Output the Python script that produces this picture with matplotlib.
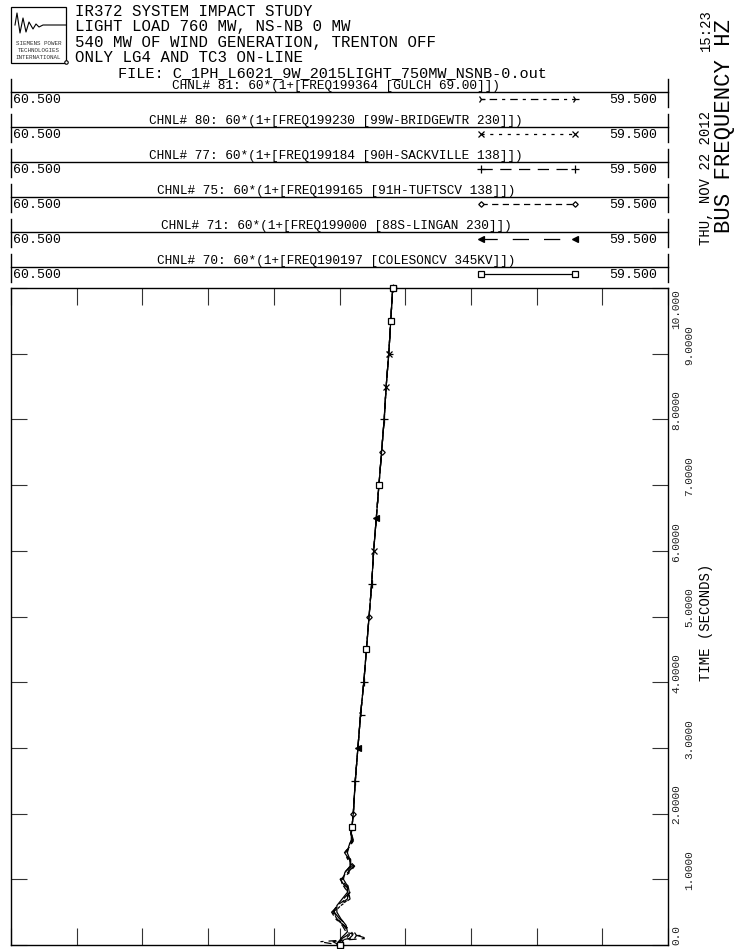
import numpy as np
import matplotlib
matplotlib.use("Agg")
import matplotlib.pyplot as plt

plt.rcParams['font.family'] = ['Liberation Mono', 'DejaVu Sans Mono']

W, H, DPI = 737, 949, 100

# ---------------- data ----------------
header_lines = ["IR372 SYSTEM IMPACT STUDY",
                "LIGHT LOAD 760 MW, NS-NB 0 MW",
                "540 MW OF WIND GENERATION, TRENTON OFF",
                "ONLY LG4 AND TC3 ON-LINE"]
file_line = "FILE: C_1PH_L6021_9W_2015LIGHT_750MW_NSNB-0.out"
date_text = "THU, NOV 22 2012"
time_text = "15:23"
y_title = "BUS FREQUENCY HZ"
x_title = "TIME (SECONDS)"

channel_ids = [81, 80, 77, 75, 71, 70]
channel_titles = ["CHNL# 81: 60*(1+[FREQ199364 [GULCH 69.00]])",
                  "CHNL# 80: 60*(1+[FREQ199230 [99W-BRIDGEWTR 230]])",
                  "CHNL# 77: 60*(1+[FREQ199184 [90H-SACKVILLE 138]])",
                  "CHNL# 75: 60*(1+[FREQ199165 [91H-TUFTSCV 138]])",
                  "CHNL# 71: 60*(1+[FREQ199000 [88S-LINGAN 230]])",
                  "CHNL# 70: 60*(1+[FREQ190197 [COLESONCV 345KV]])"]
freq_min, freq_max = 59.5, 60.5
freq_min_label, freq_max_label = "59.500", "60.500"
time_ticks = [0, 1, 2, 3, 4, 5, 6, 7, 8, 9, 10]
time_tick_labels = ["0.0", "1.0000", "2.0000", "3.0000", "4.0000", "5.0000",
                    "6.0000", "7.0000", "8.0000", "9.0000", "10.000"]
freq_ticks = [60.5, 60.4, 60.3, 60.2, 60.1, 60.0, 59.9, 59.8, 59.7, 59.6, 59.5]

t_early = [0.0, 0.05, 0.1, 0.15, 0.2, 0.3, 0.4, 0.5, 0.6, 0.7, 0.8, 0.9,
           1.0, 1.1, 1.2, 1.3, 1.4, 1.5, 1.6, 1.7, 1.8, 1.9]
t_late = [2.0, 2.5, 3.0, 3.5, 4.0, 4.5, 5.0, 5.5, 6.0, 6.5, 7.0, 7.5,
          8.0, 8.5, 9.0, 9.5, 10.0]
f_late = [59.979, 59.976, 59.972, 59.968, 59.963, 59.959, 59.955, 59.951,
          59.948, 59.944, 59.940, 59.936, 59.932, 59.929, 59.925, 59.922, 59.919]

f81_early = [60.000, 60.030, 59.958, 59.975, 59.990, 59.996, 60.006, 60.010, 59.998, 59.984, 59.986,
             59.995, 59.998, 59.985, 59.977, 59.987, 59.993, 59.984, 59.978, 59.983, 59.981, 59.980]
f80_early = [60.000, 60.006, 59.982, 59.978, 59.982, 59.992, 60.004, 60.008, 59.998, 59.986, 59.987,
             59.994, 59.996, 59.986, 59.980, 59.987, 59.991, 59.983, 59.980, 59.983, 59.981, 59.980]
f77_early = [60.000, 60.010, 59.985, 59.980, 59.984, 59.993, 60.006, 60.012, 60.002, 59.988, 59.986,
             59.992, 59.999, 59.988, 59.978, 59.985, 59.992, 59.986, 59.979, 59.982, 59.981, 59.980]
f75_early = [60.000, 59.996, 59.990, 59.985, 59.986, 59.994, 60.004, 60.010, 60.004, 59.990, 59.984,
             59.990, 59.997, 59.990, 59.981, 59.985, 59.990, 59.985, 59.980, 59.983, 59.981, 59.980]
f71_early = [60.000, 60.002, 59.996, 59.988, 59.984, 59.988, 60.000, 60.008, 60.006, 59.994, 59.985,
             59.987, 59.995, 59.993, 59.983, 59.983, 59.989, 59.987, 59.981, 59.982, 59.981, 59.980]
f70_early = [60.000, 60.000, 59.998, 59.993, 59.988, 59.990, 59.998, 60.004, 60.004, 59.996, 59.988,
             59.988, 59.994, 59.992, 59.984, 59.984, 59.988, 59.986, 59.982, 59.982, 59.981, 59.980]

early_by_channel = {81: f81_early, 80: f80_early, 77: f77_early,
                    75: f75_early, 71: f71_early, 70: f70_early}

# marker times on each curve
marker_times = {70: [0.0, 1.8, 4.5, 7.0, 9.5, 10.0],
                75: [0.0, 2.0, 5.0, 7.5, 10.0],
                77: [0.0, 2.5, 4.0, 5.5, 8.0, 10.0],
                71: [0.0, 3.0, 6.5, 10.0],
                80: [0.0, 6.0, 8.5, 9.0, 10.0],
                81: [0.0, 0.15, 3.5, 9.0, 10.0]}

# ---------------- styles ----------------
styles = {81: dict(ls=(0, (2.5, 4, 6, 4)), marker='4', ms=6, mfc='black'),
          80: dict(ls=(0, (2.5, 4.5)), marker='x', ms=4, mfc='black'),
          77: dict(ls=(0, (9, 6)), marker='+', ms=5.5, mfc='black'),
          75: dict(ls=(0, (5, 3.5)), marker='D', ms=2.8, mfc='white'),
          71: dict(ls=(0, (13, 12)), marker='<', ms=4, mfc='black'),
          70: dict(ls='-', marker='s', ms=4, mfc='white')}

fig = plt.figure(figsize=(W / DPI, H / DPI), dpi=DPI)

# overlay in pixel coordinates
ov = fig.add_axes([0, 0, 1, 1])
ov.set_xlim(0, W)
ov.set_ylim(H, 0)
ov.axis('off')

# ---------------- main plot ----------------
L, R, T, B = 11, 668, 288, 945
ax = fig.add_axes([L / W, (H - B) / H, (R - L) / W, (B - T) / H])
ax.set_xlim(freq_max, freq_min)
ax.set_ylim(0, 10)
t_all = np.array(t_early + t_late)
for cid in channel_ids:
    f_all = np.array(early_by_channel[cid] + f_late)
    st = styles[cid]
    idx = [int(np.argmin(np.abs(t_all - mt))) for mt in marker_times[cid]]
    ax.plot(f_all, t_all, color='black', lw=0.9, ls=st['ls'],
            marker=st['marker'], ms=st['ms'], mfc=st['mfc'], mec='black',
            mew=0.9, markevery=idx, clip_on=False, zorder=3)
ax.set_xticks(freq_ticks)
ax.set_yticks(time_ticks)
ax.tick_params(axis='x', direction='in', top=True, bottom=True, length=12.2,
               width=0.8, labelbottom=False, labeltop=False, color='#333')
ax.tick_params(axis='y', direction='in', left=True, right=True, length=11.5,
               width=0.8, labelleft=False, labelright=False, color='#333')
for sp in ax.spines.values():
    sp.set_linewidth(1.0)
    sp.set_color('black')
ax.set_facecolor('none')

# right-side time labels
for tv, lab in zip(time_ticks, time_tick_labels):
    ypx = B - tv * (B - T) / 10.0
    xpx = 676 if tv % 2 == 0 else 689
    if tv == 10:
        ov.text(xpx, T + 1, lab, rotation=90, ha='center', va='top', fontsize=8, color='#222')
    elif tv == 0:
        ov.text(xpx, B, lab, rotation=90, ha='center', va='bottom', fontsize=8, color='#222')
    else:
        ov.text(xpx, ypx - 9, lab, rotation=90, ha='center', va='center', fontsize=8, color='#222')

ov.text(706, 622, x_title, rotation=90, ha='center', va='center', fontsize=10)
ov.text(706, 178, date_text, rotation=90, ha='center', va='center', fontsize=10)
ov.text(706, 30, time_text, rotation=90, ha='center', va='center', fontsize=10)
ov.text(725, 126, y_title, rotation=90, ha='center', va='center', fontsize=16)

# ---------------- header ----------------
ov.add_patch(plt.Rectangle((11, 7), 55, 56, fill=False, lw=0.9, ec='black'))
logo_x = [15, 17, 20, 23, 26, 29, 33, 36, 39, 43, 47, 66]
logo_y = [25, 13, 33, 18, 32, 22, 29, 24, 27, 25, 25, 25]
ov.plot(logo_x, logo_y, color='black', lw=0.8)
for yy, s in zip([43, 50.5, 57.5], ["SIEMENS POWER", "TECHNOLOGIES", "INTERNATIONAL"]):
    ov.text(38.5, yy, s, ha='center', va='center', fontsize=4.2, color='#333')
ov.plot([66], [62], marker='o', ms=2.5, mfc='white', mec='black', mew=0.8)

for i, s in enumerate(header_lines):
    ov.text(75, 11 + i * 15.5, s, ha='left', va='center', fontsize=11.3)
ov.text(118, 73, file_line, ha='left', va='center', fontsize=11)

# ---------------- channel legend rows ----------------
row_lines = [92, 127, 162, 197, 232, 267]
for cid, title, ly in zip(channel_ids, channel_titles, row_lines):
    st = styles[cid]
    ov.text(336, ly - 6, title, ha='center', va='center', fontsize=9.2)
    ov.plot([L, R], [ly, ly], color='black', lw=1.0)
    ov.plot([L, L], [ly - 13, ly + 15], color='black', lw=1.0)
    ov.plot([R, R], [ly - 13, ly + 15], color='black', lw=1.0)
    vy = ly + 8
    ov.text(13, vy, freq_max_label, ha='left', va='center', fontsize=9.5)
    ov.text(657, vy, freq_min_label, ha='right', va='center', fontsize=9.5)
    ov.plot([481, 575], [vy - 1, vy - 1], color='black', lw=0.9, ls=st['ls'],
            marker=st['marker'], ms=st['ms'], mfc=st['mfc'], mec='black', mew=0.9)

fig.savefig("out.png", dpi=DPI)
